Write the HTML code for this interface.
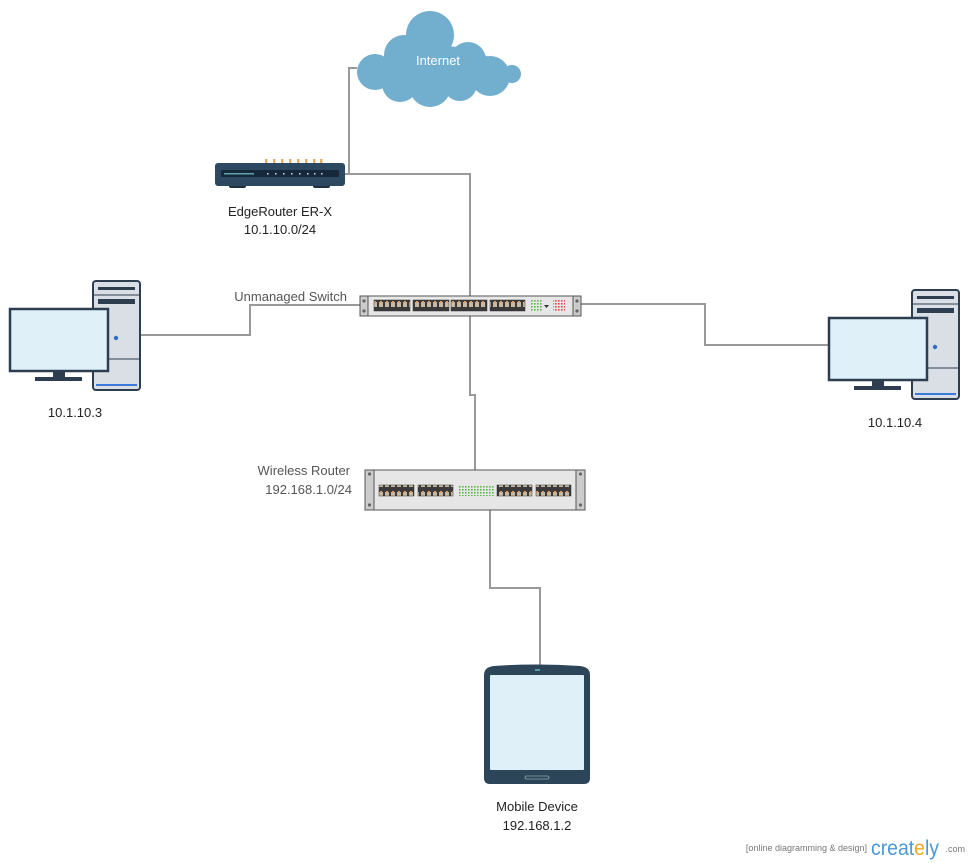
<!DOCTYPE html>
<html><head><meta charset="utf-8"><style>
html,body{margin:0;padding:0;background:#fff;}
svg{display:block;}
text{font-family:"Liberation Sans",sans-serif;}
</style></head><body>
<svg width="970" height="863" viewBox="0 0 970 863" xmlns="http://www.w3.org/2000/svg">
<defs>
  <pattern id="port" x="0" y="0" width="6" height="10" patternUnits="userSpaceOnUse">
    <rect x="0" y="0" width="6" height="10" fill="#3a3a3a"/>
    <rect x="1" y="2" width="4" height="5" fill="#c9b9a3"/>
    <rect x="2" y="1" width="2" height="2" fill="#d8a070"/>
  </pattern>
  <pattern id="gled" x="0" y="0" width="3" height="3" patternUnits="userSpaceOnUse">
    <rect x="0" y="0" width="1.6" height="1.6" fill="#5cb84a"/>
  </pattern>
  <pattern id="rled" x="0" y="0" width="3" height="3" patternUnits="userSpaceOnUse">
    <rect x="0" y="0" width="1.6" height="1.6" fill="#e0474c"/>
  </pattern>
  <g id="pc">
    <rect x="-40" y="88" width="12" height="10" fill="#2d3e50"/>
    <rect x="-58" y="96" width="47" height="4" fill="#2d3e50"/>
    <rect x="0" y="0" width="47" height="109" rx="3" fill="#d9dfe5" stroke="#2d3e50" stroke-width="2"/>
    <line x1="1" y1="14" x2="46" y2="14" stroke="#2d3e50" stroke-width="1"/>
    <line x1="1" y1="78" x2="46" y2="78" stroke="#2d3e50" stroke-width="1"/>
    <rect x="5" y="6" width="37" height="3" fill="#2d3e50"/>
    <rect x="5" y="18" width="37" height="5" fill="#2d3e50"/>
    <circle cx="23" cy="57" r="2.2" fill="#2b6cd4"/>
    <rect x="3" y="103" width="41" height="2" fill="#3b7ad9"/>
    <rect x="-83" y="28" width="98" height="62" fill="#dff0f9" stroke="#2d3e50" stroke-width="2.5"/>
  </g>
</defs>

<g fill="none" stroke="#999" stroke-width="2">
  <polyline points="357,68 349,68 349,174 345,174"/>
  <polyline points="345,174 470,174 470,297"/>
  <polyline points="361,305 250,305 250,335 140,335"/>
  <polyline points="580,304 705,304 705,345 830,345"/>
  <polyline points="470,316 470,395 475,395 475,471"/>
  <polyline points="490,510 490,588 540,588 540,666"/>
</g>

<g fill="#72aecd">
  <circle cx="430" cy="35" r="24"/>
  <circle cx="404" cy="55" r="20"/>
  <circle cx="375" cy="72" r="18"/>
  <circle cx="400" cy="84" r="18"/>
  <circle cx="430" cy="86" r="21"/>
  <circle cx="460" cy="84" r="17"/>
  <circle cx="468" cy="60" r="18"/>
  <circle cx="490" cy="76" r="20"/>
  <circle cx="512" cy="74" r="9"/>
  <ellipse cx="440" cy="68" rx="55" ry="22"/>
</g>
<text x="438" y="65" font-size="13" fill="#fff" text-anchor="middle">Internet</text>

<rect x="229" y="183" width="17" height="5" rx="2" fill="#1f3042"/>
<rect x="313" y="183" width="17" height="5" rx="2" fill="#1f3042"/>
<g fill="#e8b068">
  <rect x="265" y="159" width="2.5" height="5"/><rect x="273" y="159" width="2.5" height="5"/>
  <rect x="281" y="159" width="2.5" height="5"/><rect x="289" y="159" width="2.5" height="5"/>
  <rect x="297" y="159" width="2.5" height="5"/><rect x="305" y="159" width="2.5" height="5"/>
  <rect x="313" y="159" width="2.5" height="5"/><rect x="320" y="159" width="2.5" height="5"/>
</g>
<rect x="215" y="163" width="130" height="23" rx="3" fill="#2d4861"/>
<rect x="221" y="170" width="118" height="7" rx="1" fill="#16283a"/>
<rect x="224" y="173" width="30" height="1.5" fill="#5fa6b0"/>
<g fill="#ddd"><rect x="267" y="173" width="1.5" height="1.5"/><rect x="275" y="173" width="1.5" height="1.5"/><rect x="283" y="173" width="1.5" height="1.5"/><rect x="291" y="173" width="1.5" height="1.5"/><rect x="299" y="173" width="1.5" height="1.5"/><rect x="307" y="173" width="1.5" height="1.5"/><rect x="314" y="173" width="1.5" height="1.5"/><rect x="321" y="173" width="1.5" height="1.5"/></g>
<text x="280" y="216" font-size="13" fill="#222" text-anchor="middle">EdgeRouter ER-X</text>
<text x="280" y="234" font-size="13" fill="#222" text-anchor="middle">10.1.10.0/24</text>

<rect x="360" y="296" width="221" height="20" fill="#e6e6e6" stroke="#555" stroke-width="1"/>
<rect x="360" y="296" width="8" height="20" fill="#ccc" stroke="#555" stroke-width="1"/>
<rect x="573" y="296" width="8" height="20" fill="#ccc" stroke="#555" stroke-width="1"/>
<circle cx="364" cy="301" r="1.6" fill="#666"/><circle cx="364" cy="311" r="1.6" fill="#666"/>
<circle cx="577" cy="301" r="1.6" fill="#666"/><circle cx="577" cy="311" r="1.6" fill="#666"/>
<rect x="374" y="300" width="36" height="11" fill="url(#port)" stroke="#333" stroke-width="0.5"/>
<rect x="413" y="300" width="36" height="11" fill="url(#port)" stroke="#333" stroke-width="0.5"/>
<rect x="451" y="300" width="36" height="11" fill="url(#port)" stroke="#333" stroke-width="0.5"/>
<rect x="490" y="300" width="35" height="11" fill="url(#port)" stroke="#333" stroke-width="0.5"/>
<rect x="530" y="300" width="12" height="11" fill="url(#gled)"/>
<path d="M544 305 h5 l-2.5 3 z" fill="#333"/>
<rect x="553" y="300" width="12" height="11" fill="url(#rled)"/>
<text x="347" y="301" font-size="13" fill="#555" text-anchor="end">Unmanaged Switch</text>

<rect x="365" y="470" width="220" height="40" fill="#e6e6e6" stroke="#555" stroke-width="1"/>
<rect x="365" y="470" width="9" height="40" fill="#ccc" stroke="#555" stroke-width="1"/>
<rect x="576" y="470" width="9" height="40" fill="#ccc" stroke="#555" stroke-width="1"/>
<circle cx="369.5" cy="474" r="1.6" fill="#666"/><circle cx="369.5" cy="505" r="1.6" fill="#666"/>
<circle cx="580.5" cy="474" r="1.6" fill="#666"/><circle cx="580.5" cy="505" r="1.6" fill="#666"/>
<rect x="379" y="485" width="35" height="11" fill="url(#port)" stroke="#333" stroke-width="0.5"/>
<rect x="418" y="485" width="35" height="11" fill="url(#port)" stroke="#333" stroke-width="0.5"/>
<rect x="458" y="485" width="36" height="11" fill="url(#gled)"/>
<rect x="497" y="485" width="35" height="11" fill="url(#port)" stroke="#333" stroke-width="0.5"/>
<rect x="536" y="485" width="35" height="11" fill="url(#port)" stroke="#333" stroke-width="0.5"/>
<text x="350" y="475" font-size="13" fill="#555" text-anchor="end">Wireless Router</text>
<text x="352" y="494" font-size="13" fill="#555" text-anchor="end">192.168.1.0/24</text>

<use href="#pc" transform="translate(93,281)"/>
<text x="75" y="417" font-size="13" fill="#222" text-anchor="middle">10.1.10.3</text>
<use href="#pc" transform="translate(912,290)"/>
<text x="895" y="427" font-size="13" fill="#222" text-anchor="middle">10.1.10.4</text>

<path d="M484 675 Q484 667 494 666 Q537 663 580 666 Q590 667 590 675 L590 778 Q590 784 584 784 L490 784 Q484 784 484 778 Z" fill="#2d4558"/>
<rect x="490" y="675" width="94" height="95" rx="1" fill="#dff0f9"/>
<rect x="535" y="669" width="5" height="2" fill="#5b9aa8"/>
<rect x="525" y="776" width="24" height="3" rx="1.5" fill="none" stroke="#8aa" stroke-width="0.8"/>
<text x="537" y="811" font-size="13" fill="#222" text-anchor="middle">Mobile Device</text>
<text x="537" y="830" font-size="13" fill="#222" text-anchor="middle">192.168.1.2</text>

<text x="867" y="851" font-size="9" fill="#777" text-anchor="end">[online diagramming &amp; design]</text>
<text x="871" y="855" font-size="21" fill="#4a98d8" textLength="68" lengthAdjust="spacingAndGlyphs">creat<tspan fill="#f0a820">e</tspan>ly</text>
<text x="965" y="852" font-size="9" fill="#777" text-anchor="end">.com</text>
</svg>
</body></html>
